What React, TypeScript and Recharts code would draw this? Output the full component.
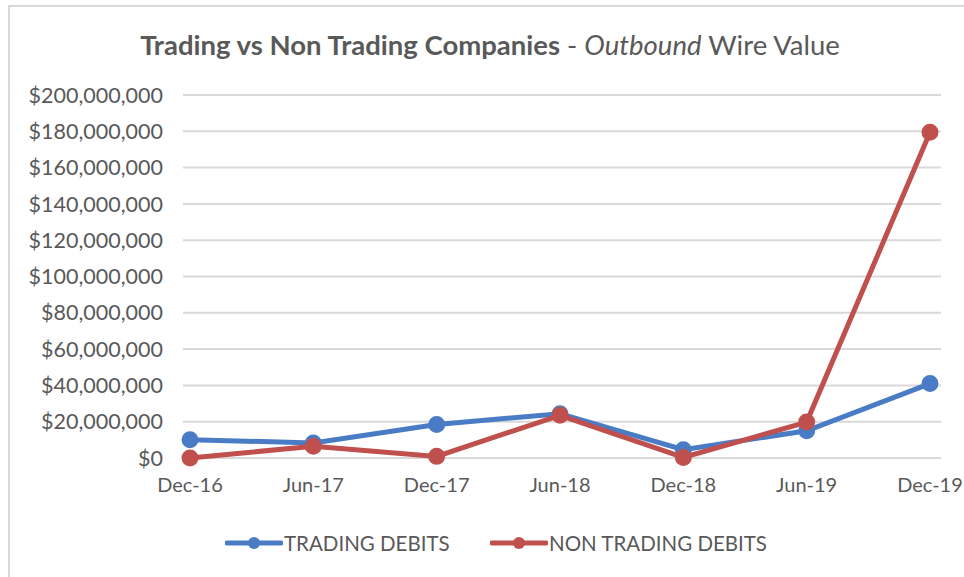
import React from "react";
import { LineChart, Line, XAxis, YAxis, CartesianGrid } from "recharts";

const categories = ["Dec-16", "Jun-17", "Dec-17", "Jun-18", "Dec-18", "Jun-19", "Dec-19"];
const tradingDebits = [10100000, 8300000, 18500000, 24400000, 4600000, 15000000, 41000000];
const nonTradingDebits = [0, 6500000, 900000, 23500000, 300000, 19800000, 179500000];
const yTicks = [0, 20000000, 40000000, 60000000, 80000000, 100000000, 120000000, 140000000, 160000000, 180000000, 200000000];

const data = categories.map((c, i) => ({ name: c, trading: tradingDebits[i], nonTrading: nonTradingDebits[i] }));

const BLUE = "#4A7CC6";
const RED = "#C0504D";
const TEXT = "#595959";
const FONT = "Lato, 'Open Sans', sans-serif";

const fmt = (v: number) => "$" + v.toLocaleString("en-US");

const LegendItem = ({ color, label, left }: { color: string; label: string; left: number }) => (
  <div style={{ position: "absolute", left, top: 530, display: "flex", alignItems: "center" }}>
    <svg width={58} height={14}>
      <line x1={2} y1={7} x2={56} y2={7} stroke={color} strokeWidth={5} strokeLinecap="round" />
      <circle cx={29} cy={7} r={6} fill={color} />
    </svg>
    <span style={{ color: TEXT, fontSize: 20.5, fontFamily: FONT, marginLeft: 1, lineHeight: "26px" }}>{label}</span>
  </div>
);

export default function App() {
  return (
    <div style={{ position: "absolute", left: 0, top: 0, width: 964, height: 577, background: "#fff", overflow: "hidden" }}>
      <div style={{ position: "absolute", left: 8, top: 5, width: 1000, height: 600, border: "2px solid #d9d9d9", boxSizing: "border-box" }} />
      <div style={{ position: "absolute", left: 0, top: 28, width: 980, textAlign: "center", fontFamily: FONT, fontSize: 27.5, color: TEXT }}>
        <span style={{ fontWeight: 700 }}>Trading vs Non Trading Companies</span>
        <span> - </span>
        <span style={{ fontStyle: "italic" }}>Outbound</span>
        <span> Wire Value</span>
      </div>
      <div style={{ position: "absolute", left: 0, top: 0 }}>
        <LineChart width={964} height={577} data={data} margin={{ top: 95, right: 23, bottom: 89, left: 0 }}>
          <CartesianGrid vertical={false} stroke="#d9d9d9" strokeWidth={2} />
          <XAxis
            dataKey="name"
            height={30}
            axisLine={false}
            tickLine={false}
            tickSize={0}
            tickMargin={20}
            padding={{ left: 7, right: 11 }}
            interval={0}
            tick={{ fill: TEXT, fontSize: 20, fontFamily: FONT }}
          />
          <YAxis
            width={183}
            domain={[0, 200000000]}
            ticks={yTicks}
            axisLine={false}
            tickLine={false}
            tickSize={0}
            tickMargin={20}
            tickFormatter={fmt}
            interval={0}
            tick={{ fill: TEXT, fontSize: 21.5, fontFamily: FONT }}
          />
          <Line type="linear" dataKey="trading" stroke={BLUE} strokeWidth={5} dot={{ r: 6, fill: BLUE, stroke: BLUE }} isAnimationActive={false} />
          <Line type="linear" dataKey="nonTrading" stroke={RED} strokeWidth={5} dot={{ r: 6, fill: RED, stroke: RED }} isAnimationActive={false} />
        </LineChart>
      </div>
      <LegendItem color={BLUE} label="TRADING DEBITS" left={225} />
      <LegendItem color={RED} label="NON TRADING DEBITS" left={490} />
    </div>
  );
}
